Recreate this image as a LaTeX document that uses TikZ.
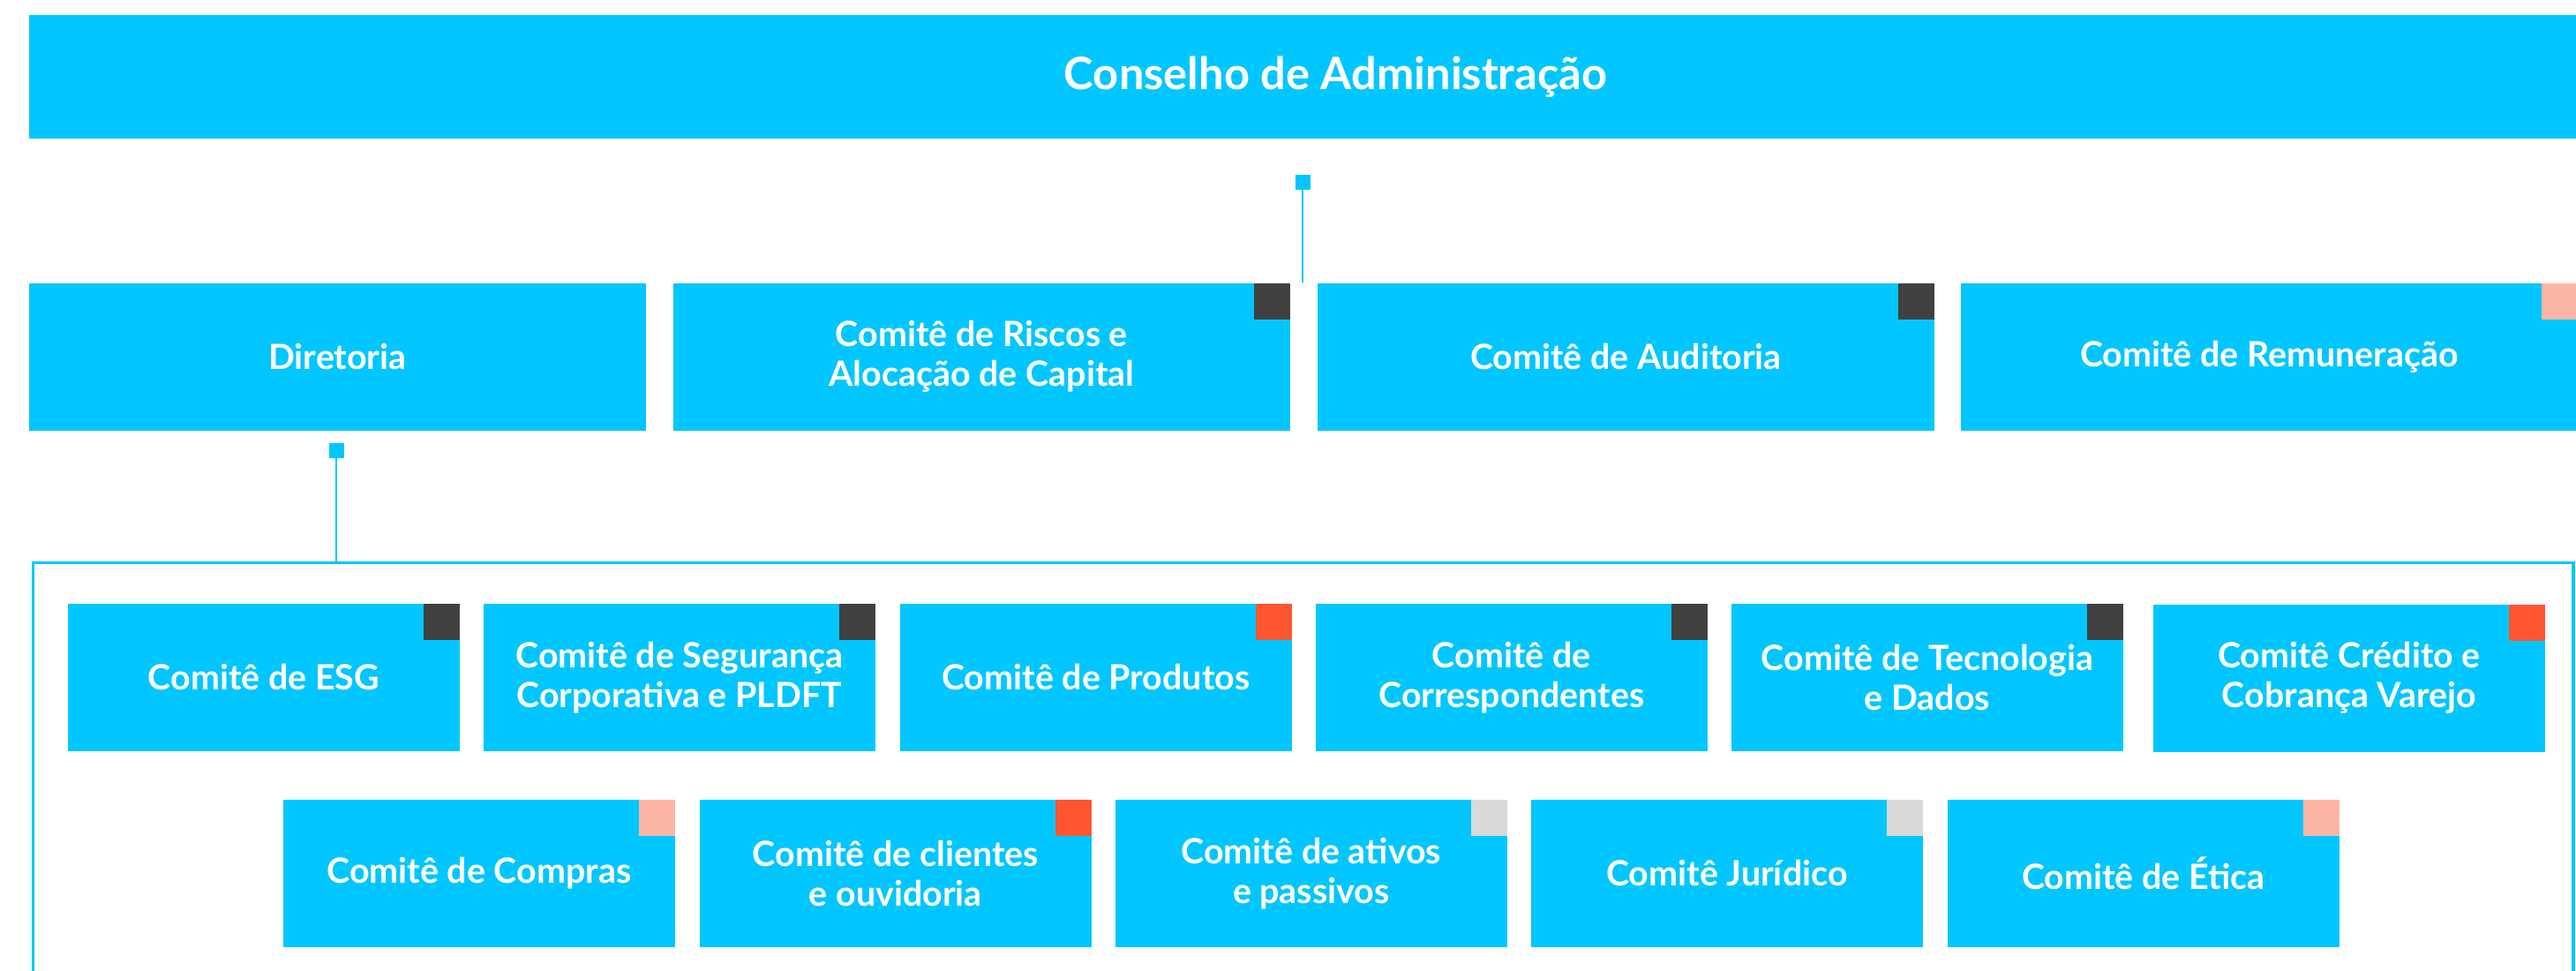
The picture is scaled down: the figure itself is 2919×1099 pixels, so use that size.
\documentclass[tikz,border=0pt]{standalone}
\usepackage{fontspec}
\setmainfont{Lato}
\definecolor{cy}{RGB}{2,198,255}
\definecolor{mkdark}{RGB}{65,65,65}
\definecolor{mkred}{RGB}{255,86,50}
\definecolor{mksalmon}{RGB}{253,182,163}
\definecolor{mkgray}{RGB}{218,218,218}
\begin{document}
\begin{tikzpicture}[x=0.01cm,y=-0.01cm,
  cbox/.style={fill=cy, draw=none, text=white, inner sep=0pt, align=center,
    minimum width=4.44cm, minimum height=1.67cm, anchor=north west,
    font=\fontsize{11.2pt}{12.8pt}\selectfont\bfseries},
  wbox/.style={cbox, minimum width=6.99cm},
  topbox/.style={cbox, minimum width=29.6cm, minimum height=1.4cm,
    font=\fontsize{14.4pt}{17pt}\selectfont\bfseries},
  mk/.style={draw=none, inner sep=0pt, minimum size=0.41cm, anchor=north east},
  sq/.style={fill=cy, draw=none, inner sep=0pt, minimum size=0.17cm, anchor=north west},
  conn/.style={draw=cy, line width=0.7pt},
  framebox/.style={draw=cy, line width=0.9pt, fill=none}
]
\useasboundingbox (0,0) rectangle (2919,1099);
\clip (0,0) rectangle (2919,1099);

% top
\node[topbox] (ca) at (32,16) {Conselho de Administração};

% second row
\node[wbox] (dir) at (32,320) {Diretoria};
\node[wbox] (ris) at (762,320) {Comitê de Riscos e\\Alocação de Capital};
\node[wbox] (aud) at (1492,320) {Comitê de Auditoria};
\node[wbox] (rem) at (2221,320) {Comitê de Remuneração};
\node[mk, fill=mkdark] (risM) at (ris.north east) {};
\node[mk, fill=mkdark] (audM) at (aud.north east) {};
\node[mk, fill=mksalmon] (remM) at (rem.north east) {};

% connector from council
\node[sq] (sqA) at (1467,197) {};
\coordinate (endA) at (1475.5,320);
\draw[conn] (sqA.south) -- (sqA.south |- endA);

% frame
\draw[framebox] (37.5,1200) -- (37.5,637.5) coordinate (frTL) -- (2916,637.5) -- (2916,1200);

% connector from Diretoria
\node[sq] (sqD) at (372,501) {};
\draw[conn] (sqD.south) -- (sqD.south |- frTL);

% row 1
\node[cbox] (esg) at (76,683) {Comitê de ESG};
\node[cbox] (seg) at (547,683) {Comitê de Segurança\\Corporativa e PLDFT};
\node[cbox] (prod) at (1019,683) {Comitê de Produtos};
\node[cbox] (corr) at (1490,683) {Comitê de\\Correspondentes};
\node[cbox] (tec) at (1961,683) {Comitê de Tecnologia\\e Dados};
\node[cbox] (cred) at (2439,684) {Comitê Crédito e\\Cobrança Varejo};
\node[mk, fill=mkdark] (esgM) at (esg.north east) {};
\node[mk, fill=mkdark] (segM) at (seg.north east) {};
\node[mk, fill=mkred] (prodM) at (prod.north east) {};
\node[mk, fill=mkdark] (corrM) at (corr.north east) {};
\node[mk, fill=mkdark] (tecM) at (tec.north east) {};
\node[mk, fill=mkred] (credM) at (cred.north east) {};

% row 2
\node[cbox] (comp) at (320,905) {Comitê de Compras};
\node[cbox] (cli) at (792,905) {Comitê de clientes\\e ouvidoria};
\node[cbox] (ati) at (1263,905) {Comitê de ativos\\e passivos};
\node[cbox] (jur) at (1734,905) {Comitê Jurídico};
\node[cbox] (eti) at (2206,905) {Comitê de Ética};
\node[mk, fill=mksalmon] (compM) at (comp.north east) {};
\node[mk, fill=mkred] (cliM) at (cli.north east) {};
\node[mk, fill=mkgray] (atiM) at (ati.north east) {};
\node[mk, fill=mkgray] (jurM) at (jur.north east) {};
\node[mk, fill=mksalmon] (etiM) at (eti.north east) {};
\end{tikzpicture}
\end{document}
